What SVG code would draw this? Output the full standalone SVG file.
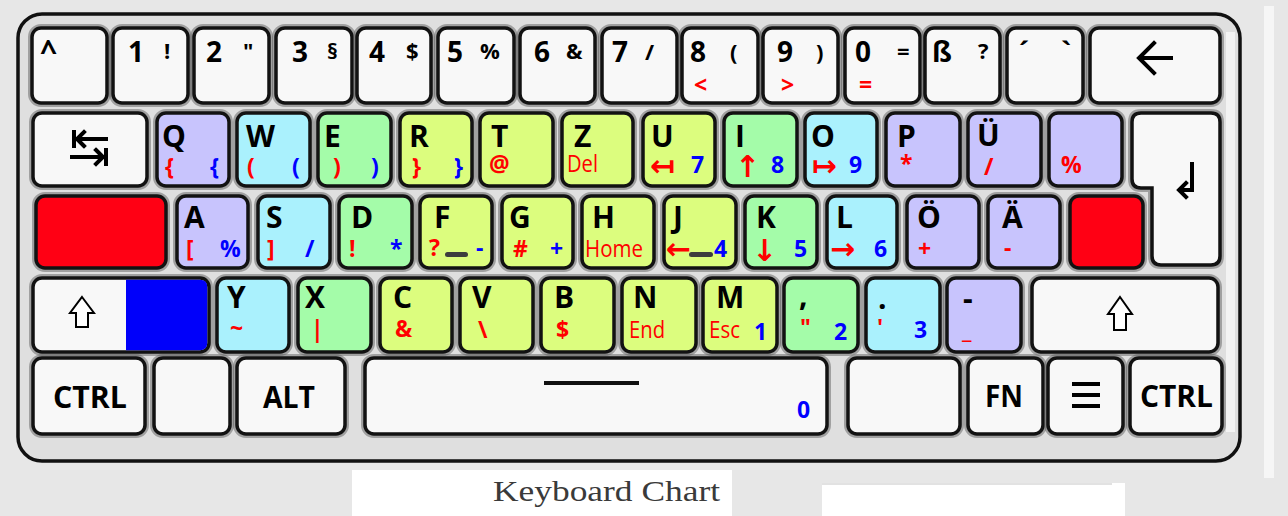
<svg xmlns="http://www.w3.org/2000/svg" width="1288" height="516" viewBox="0 0 1288 516">
<style>
.bg{fill:#e7e7e7}
.body{fill:#dfdfdf;stroke:#111;stroke-width:3.5}
.sh{fill:none;stroke:#555;stroke-width:8;opacity:.45}
.k{stroke:#121212;stroke-width:3.5}
.w{fill:#f8f8f8}.pu{fill:#c8c4fd}.cy{fill:#aaf1fd}.gr{fill:#a4fca9}.ye{fill:#dcfd7e}.rd{fill:#ff0014}.bl{fill:#0000fa}
.m{font-family:"Open Sans","DejaVu Sans",sans-serif;font-weight:700;font-size:30px;fill:#000}
.d{font-size:28px}.s{font-size:22px}
.sub{font-family:"Open Sans","DejaVu Sans",sans-serif;font-weight:700;font-size:23px}
.wd{font-weight:400}
.ar{font-family:"DejaVu Sans",sans-serif;font-weight:700;font-size:30px}
.r{fill:#ff0000}.b{fill:#0000ff}
.ic{fill:none;stroke:#000;stroke-width:4;stroke-linecap:square}
.sf{fill:#fff;stroke:#000;stroke-width:2;stroke-linejoin:miter}
.bar{fill:#3d3d3d}
.cap{font-family:"Liberation Serif","DejaVu Serif",serif;font-size:30px;fill:#3a3a3a}
</style>
<rect class="bg" x="0" y="0" width="1288" height="516"/>
<rect x="1264" y="6" width="10" height="472" fill="#f6f6f6"/>
<rect class="body" x="18" y="14" width="1222" height="447" rx="24"/>
<rect x="1226" y="32" width="9" height="400" fill="#f3f3f3"/>

<!-- Row 1 -->
<g id="key-caret"><rect class="sh" x="32" y="28" width="75" height="75" rx="9"/><rect class="k w" x="32" y="28" width="75" height="75" rx="9"/><text class="m" x="40" y="62">^</text></g>
<g id="key-1"><rect class="sh" x="113" y="28" width="75" height="75" rx="9"/><rect class="k w" x="113" y="28" width="75" height="75" rx="9"/><text class="m d" x="128" y="62">1</text><text class="m s" x="164" y="59">!</text></g>
<g id="key-2"><rect class="sh" x="194" y="28" width="75" height="75" rx="9"/><rect class="k w" x="194" y="28" width="75" height="75" rx="9"/><text class="m d" x="206" y="62">2</text><text class="m s" x="243" y="59">"</text></g>
<g id="key-3"><rect class="sh" x="276" y="28" width="76" height="75" rx="9"/><rect class="k w" x="276" y="28" width="76" height="75" rx="9"/><text class="m d" x="292" y="62">3</text><text class="m s" x="327" y="59">§</text></g>
<g id="key-4"><rect class="sh" x="357" y="28" width="74" height="75" rx="9"/><rect class="k w" x="357" y="28" width="74" height="75" rx="9"/><text class="m d" x="369" y="62">4</text><text class="m s" x="406" y="59">$</text></g>
<g id="key-5"><rect class="sh" x="438" y="28" width="76" height="75" rx="9"/><rect class="k w" x="438" y="28" width="76" height="75" rx="9"/><text class="m d" x="447" y="62">5</text><text class="m s" x="480" y="59">%</text></g>
<g id="key-6"><rect class="sh" x="520" y="28" width="75" height="75" rx="9"/><rect class="k w" x="520" y="28" width="75" height="75" rx="9"/><text class="m d" x="534" y="62">6</text><text class="m s" x="566" y="59">&amp;</text></g>
<g id="key-7"><rect class="sh" x="602" y="28" width="75" height="75" rx="9"/><rect class="k w" x="602" y="28" width="75" height="75" rx="9"/><text class="m d" x="612" y="62">7</text><text class="m s" x="645" y="60">/</text></g>
<g id="key-8"><rect class="sh" x="682" y="28" width="76" height="75" rx="9"/><rect class="k w" x="682" y="28" width="76" height="75" rx="9"/><text class="m d" x="690" y="62">8</text><text class="m s" x="730" y="60">(</text><text class="sub r" x="694" y="93">&lt;</text></g>
<g id="key-9"><rect class="sh" x="763" y="28" width="75" height="75" rx="9"/><rect class="k w" x="763" y="28" width="75" height="75" rx="9"/><text class="m d" x="777" y="62">9</text><text class="m s" x="816" y="60">)</text><text class="sub r" x="781" y="93">&gt;</text></g>
<g id="key-0"><rect class="sh" x="845" y="28" width="75" height="75" rx="9"/><rect class="k w" x="845" y="28" width="75" height="75" rx="9"/><text class="m d" x="855" y="62">0</text><text class="m s" x="897" y="59">=</text><text class="sub r" x="859" y="93">=</text></g>
<g id="key-sz"><rect class="sh" x="925" y="28" width="75" height="75" rx="9"/><rect class="k w" x="925" y="28" width="75" height="75" rx="9"/><text class="m d" x="932" y="62">ß</text><text class="m s" x="978" y="59">?</text></g>
<g id="key-acute"><rect class="sh" x="1007" y="28" width="76" height="75" rx="9"/><rect class="k w" x="1007" y="28" width="76" height="75" rx="9"/><text class="m d" x="1019" y="62">´</text><text class="m d" x="1061" y="62">`</text></g>
<g id="key-backspace"><rect class="sh" x="1090" y="28" width="130" height="75" rx="9"/><rect class="k w" x="1090" y="28" width="130" height="75" rx="9"/><path class="ic" d="M1142,58 H1171 M1154,43 L1139,58 L1154,73" stroke-width="6"/></g>

<!-- Row 2 -->
<g id="key-tab"><rect class="sh" x="33" y="113" width="114" height="73" rx="9"/><rect class="k w" x="33" y="113" width="114" height="73" rx="9"/><path class="ic" d="M74,132 V146 M106,139 H77 M84,132 L77,139 L84,146 M72,157 H103 M106,150 V164 M96,150 L103,157 L96,164" stroke-width="3.5"/></g>
<g id="key-q"><rect class="sh" x="157" y="113" width="72" height="73" rx="9"/><rect class="k pu" x="157" y="113" width="72" height="73" rx="9"/><text class="m" x="162" y="147">Q</text><text class="sub r" x="165" y="175">{</text><text class="sub b" x="210" y="175">{</text></g>
<g id="key-w"><rect class="sh" x="237" y="113" width="73" height="73" rx="9"/><rect class="k cy" x="237" y="113" width="73" height="73" rx="9"/><text class="m" x="246" y="147">W</text><text class="sub r" x="247" y="175">(</text><text class="sub b" x="292" y="175">(</text></g>
<g id="key-e"><rect class="sh" x="318" y="113" width="73" height="73" rx="9"/><rect class="k gr" x="318" y="113" width="73" height="73" rx="9"/><text class="m" x="324" y="147">E</text><text class="sub r" x="333" y="175">)</text><text class="sub b" x="371" y="175">)</text></g>
<g id="key-r"><rect class="sh" x="400" y="113" width="72" height="73" rx="9"/><rect class="k ye" x="400" y="113" width="72" height="73" rx="9"/><text class="m" x="409" y="147">R</text><text class="sub r" x="412" y="175">}</text><text class="sub b" x="454" y="175">}</text></g>
<g id="key-t"><rect class="sh" x="480" y="113" width="73" height="73" rx="9"/><rect class="k ye" x="480" y="113" width="73" height="73" rx="9"/><text class="m" x="491" y="147">T</text><text class="sub r" x="489" y="172" font-size="25">@</text></g>
<g id="key-z"><rect class="sh" x="562" y="113" width="71" height="73" rx="9"/><rect class="k ye" x="562" y="113" width="71" height="73" rx="9"/><text class="m" x="574" y="147">Z</text><text class="sub wd r" x="567" y="172" textLength="31" lengthAdjust="spacingAndGlyphs">Del</text></g>
<g id="key-u"><rect class="sh" x="643" y="113" width="72" height="73" rx="9"/><rect class="k ye" x="643" y="113" width="72" height="73" rx="9"/><text class="m" x="651" y="147">U</text><text class="ar r" x="650" y="176">↤</text><text class="sub b" x="691" y="173">7</text></g>
<g id="key-i"><rect class="sh" x="724" y="113" width="73" height="73" rx="9"/><rect class="k gr" x="724" y="113" width="73" height="73" rx="9"/><text class="m" x="735" y="147">I</text><text class="ar r" x="735" y="177">↑</text><text class="sub b" x="771" y="173">8</text></g>
<g id="key-o"><rect class="sh" x="805" y="113" width="72" height="73" rx="9"/><rect class="k cy" x="805" y="113" width="72" height="73" rx="9"/><text class="m" x="811" y="147">O</text><text class="ar r" x="812" y="176">↦</text><text class="sub b" x="849" y="173">9</text></g>
<g id="key-p"><rect class="sh" x="886" y="113" width="74" height="73" rx="9"/><rect class="k pu" x="886" y="113" width="74" height="73" rx="9"/><text class="m" x="897" y="147">P</text><text class="sub r" x="900" y="172">*</text></g>
<g id="key-ue"><rect class="sh" x="968" y="113" width="73" height="73" rx="9"/><rect class="k pu" x="968" y="113" width="73" height="73" rx="9"/><text class="m" x="977" y="146">Ü</text><text class="sub r" x="984" y="175">/</text></g>
<g id="key-percent"><rect class="sh" x="1049" y="113" width="73" height="73" rx="9"/><rect class="k pu" x="1049" y="113" width="73" height="73" rx="9"/><text class="sub r" x="1061" y="173">%</text></g>
<g id="key-enter"><path class="sh" d="M1141,113 H1211 Q1220,113 1220,122 V256 Q1220,265 1211,265 H1161 Q1152,265 1152,256 V188 H1141 Q1132,188 1132,179 V122 Q1132,113 1141,113 Z"/><path class="k w" d="M1141,113 H1211 Q1220,113 1220,122 V256 Q1220,265 1211,265 H1161 Q1152,265 1152,256 V188 H1141 Q1132,188 1132,179 V122 Q1132,113 1141,113 Z"/><path class="ic" d="M1192,164 V190 H1180 M1186,183 L1179,190 L1186,197" stroke-width="3.2"/></g>

<!-- Row 3 -->
<g id="key-caps"><rect class="sh" x="36" y="196" width="130" height="72" rx="9"/><rect class="k rd" x="36" y="196" width="130" height="72" rx="9"/></g>
<g id="key-a"><rect class="sh" x="177" y="196" width="71" height="72" rx="9"/><rect class="k pu" x="177" y="196" width="71" height="72" rx="9"/><text class="m" x="184" y="228">A</text><text class="sub r" x="186" y="257">[</text><text class="sub b" x="220" y="257">%</text></g>
<g id="key-s"><rect class="sh" x="258" y="196" width="72" height="72" rx="9"/><rect class="k cy" x="258" y="196" width="72" height="72" rx="9"/><text class="m" x="266" y="228">S</text><text class="sub r" x="267" y="257">]</text><text class="sub b" x="305" y="257">/</text></g>
<g id="key-d"><rect class="sh" x="339" y="196" width="73" height="72" rx="9"/><rect class="k gr" x="339" y="196" width="73" height="72" rx="9"/><text class="m" x="351" y="228">D</text><text class="sub r" x="349" y="257">!</text><text class="sub b" x="390" y="257">*</text></g>
<g id="key-f"><rect class="sh" x="420" y="196" width="72" height="72" rx="9"/><rect class="k ye" x="420" y="196" width="72" height="72" rx="9"/><text class="m" x="434" y="228">F</text><text class="sub r" x="429" y="256">?</text><rect class="bar" x="445" y="252" width="23" height="5" rx="2.5"/><text class="sub b" x="476" y="256">-</text></g>
<g id="key-g"><rect class="sh" x="502" y="196" width="71" height="72" rx="9"/><rect class="k ye" x="502" y="196" width="71" height="72" rx="9"/><text class="m" x="509" y="228">G</text><text class="sub r" x="513" y="257">#</text><text class="sub b" x="550" y="257">+</text></g>
<g id="key-h"><rect class="sh" x="582" y="196" width="72" height="72" rx="9"/><rect class="k ye" x="582" y="196" width="72" height="72" rx="9"/><text class="m" x="592" y="228">H</text><text class="sub wd r" x="585" y="257" textLength="58" lengthAdjust="spacingAndGlyphs">Home</text></g>
<g id="key-j"><rect class="sh" x="664" y="196" width="72" height="72" rx="9"/><rect class="k ye" x="664" y="196" width="72" height="72" rx="9"/><text class="m" x="673" y="228">J</text><text class="ar r" x="666" y="259">←</text><rect class="bar" x="689" y="252" width="24" height="5" rx="2.5"/><text class="sub b" x="714" y="257">4</text></g>
<g id="key-k"><rect class="sh" x="745" y="196" width="72" height="72" rx="9"/><rect class="k gr" x="745" y="196" width="72" height="72" rx="9"/><text class="m" x="756" y="228">K</text><text class="ar r" x="752" y="261">↓</text><text class="sub b" x="794" y="257">5</text></g>
<g id="key-l"><rect class="sh" x="827" y="196" width="70" height="72" rx="9"/><rect class="k cy" x="827" y="196" width="70" height="72" rx="9"/><text class="m" x="836" y="228">L</text><text class="ar r" x="830" y="259">→</text><text class="sub b" x="874" y="257">6</text></g>
<g id="key-oe"><rect class="sh" x="907" y="196" width="72" height="72" rx="9"/><rect class="k pu" x="907" y="196" width="72" height="72" rx="9"/><text class="m" x="917" y="228">Ö</text><text class="sub r" x="918" y="257">+</text></g>
<g id="key-ae"><rect class="sh" x="988" y="196" width="72" height="72" rx="9"/><rect class="k pu" x="988" y="196" width="72" height="72" rx="9"/><text class="m" x="1002" y="228">Ä</text><text class="sub r" x="1004" y="256">-</text></g>
<g id="key-hash"><rect class="sh" x="1070" y="196" width="73" height="72" rx="9"/><rect class="k rd" x="1070" y="196" width="73" height="72" rx="9"/></g>

<!-- Row 4 -->
<g id="key-lshift"><rect class="sh" x="33" y="278" width="176" height="74" rx="9"/><rect class="k w" x="33" y="278" width="176" height="74" rx="9"/><path class="bl" d="M126,279.8 H200 Q207.2,279.8 207.2,287 V343 Q207.2,350.2 200,350.2 H126 Z"/><path class="sf" d="M82,297 L94,313 H88 V327 H76 V313 H70 Z"/></g>
<g id="key-y"><rect class="sh" x="217" y="278" width="72" height="74" rx="9"/><rect class="k cy" x="217" y="278" width="72" height="74" rx="9"/><text class="m" x="227" y="308">Y</text><text class="sub r" x="230" y="336">~</text></g>
<g id="key-x"><rect class="sh" x="298" y="278" width="73" height="74" rx="9"/><rect class="k gr" x="298" y="278" width="73" height="74" rx="9"/><text class="m" x="305" y="308">X</text><text class="sub r" x="311" y="337">|</text></g>
<g id="key-c"><rect class="sh" x="380" y="278" width="72" height="74" rx="9"/><rect class="k ye" x="380" y="278" width="72" height="74" rx="9"/><text class="m" x="393" y="308">C</text><text class="sub r" x="395" y="337">&amp;</text></g>
<g id="key-v"><rect class="sh" x="460" y="278" width="73" height="74" rx="9"/><rect class="k ye" x="460" y="278" width="73" height="74" rx="9"/><text class="m" x="472" y="308">V</text><text class="sub r" x="478" y="338">\</text></g>
<g id="key-b"><rect class="sh" x="541" y="278" width="73" height="74" rx="9"/><rect class="k ye" x="541" y="278" width="73" height="74" rx="9"/><text class="m" x="554" y="308">B</text><text class="sub r" x="556" y="338">$</text></g>
<g id="key-n"><rect class="sh" x="622" y="278" width="74" height="74" rx="9"/><rect class="k ye" x="622" y="278" width="74" height="74" rx="9"/><text class="m" x="633" y="308">N</text><text class="sub wd r" x="629" y="338" textLength="36" lengthAdjust="spacingAndGlyphs">End</text></g>
<g id="key-m"><rect class="sh" x="703" y="278" width="74" height="74" rx="9"/><rect class="k ye" x="703" y="278" width="74" height="74" rx="9"/><text class="m" x="716" y="308">M</text><text class="sub wd r" x="709" y="338" textLength="31" lengthAdjust="spacingAndGlyphs">Esc</text><text class="sub b" x="754" y="340">1</text></g>
<g id="key-comma"><rect class="sh" x="784" y="278" width="74" height="74" rx="9"/><rect class="k gr" x="784" y="278" width="74" height="74" rx="9"/><text class="m" x="799" y="306">,</text><text class="sub r" x="800" y="336">"</text><text class="sub b" x="834" y="340">2</text></g>
<g id="key-period"><rect class="sh" x="866" y="278" width="74" height="74" rx="9"/><rect class="k cy" x="866" y="278" width="74" height="74" rx="9"/><text class="m" x="878" y="309">.</text><text class="sub r" x="877" y="336">'</text><text class="sub b" x="914" y="338">3</text></g>
<g id="key-minus"><rect class="sh" x="947" y="278" width="74" height="74" rx="9"/><rect class="k pu" x="947" y="278" width="74" height="74" rx="9"/><text class="m" x="963" y="309">-</text><text class="sub r" x="962" y="338">_</text></g>
<g id="key-rshift"><rect class="sh" x="1032" y="278" width="186" height="74" rx="9"/><rect class="k w" x="1032" y="278" width="186" height="74" rx="9"/><path class="sf" d="M1120,297 L1132,314 H1126 V330 H1114 V314 H1108 Z"/></g>

<!-- Row 5 -->
<g id="key-lctrl"><rect class="sh" x="33" y="358" width="112" height="76" rx="9"/><rect class="k w" x="33" y="358" width="112" height="76" rx="9"/><text class="m" x="53" y="408" font-size="33" textLength="74" lengthAdjust="spacingAndGlyphs">CTRL</text></g>
<g id="key-blank1"><rect class="sh" x="154" y="358" width="76" height="76" rx="9"/><rect class="k w" x="154" y="358" width="76" height="76" rx="9"/></g>
<g id="key-alt"><rect class="sh" x="237" y="358" width="108" height="76" rx="9"/><rect class="k w" x="237" y="358" width="108" height="76" rx="9"/><text class="m" x="263" y="408" font-size="33" textLength="52" lengthAdjust="spacingAndGlyphs">ALT</text></g>
<g id="key-space"><rect class="sh" x="365" y="358" width="462" height="76" rx="9"/><rect class="k w" x="365" y="358" width="462" height="76" rx="9"/><rect x="544" y="381" width="95" height="4" fill="#111"/><text class="sub b" x="797" y="418">0</text></g>
<g id="key-blank2"><rect class="sh" x="848" y="358" width="112" height="76" rx="9"/><rect class="k w" x="848" y="358" width="112" height="76" rx="9"/></g>
<g id="key-fn"><rect class="sh" x="968" y="358" width="75" height="76" rx="9"/><rect class="k w" x="968" y="358" width="75" height="76" rx="9"/><text class="m" x="985" y="407" font-size="33" textLength="38" lengthAdjust="spacingAndGlyphs">FN</text></g>
<g id="key-menu"><rect class="sh" x="1048" y="358" width="75" height="76" rx="9"/><rect class="k w" x="1048" y="358" width="75" height="76" rx="9"/><rect x="1072" y="382" width="28" height="4"/><rect x="1072" y="393" width="28" height="4"/><rect x="1072" y="404" width="28" height="4"/></g>
<g id="key-rctrl"><rect class="sh" x="1130" y="358" width="92" height="76" rx="9"/><rect class="k w" x="1130" y="358" width="92" height="76" rx="9"/><text class="m" x="1140" y="407" font-size="33" textLength="73" lengthAdjust="spacingAndGlyphs">CTRL</text></g>

<!-- caption -->
<rect x="352" y="470" width="380" height="46" fill="#fff"/>
<rect x="822" y="483" width="303" height="33" fill="#fff"/>
<line x1="822" y1="484" x2="1112" y2="484" stroke="#d8d8d8" stroke-width="1.5"/>
<text class="cap" x="493" y="501" textLength="227" lengthAdjust="spacingAndGlyphs">Keyboard Chart</text>
</svg>
